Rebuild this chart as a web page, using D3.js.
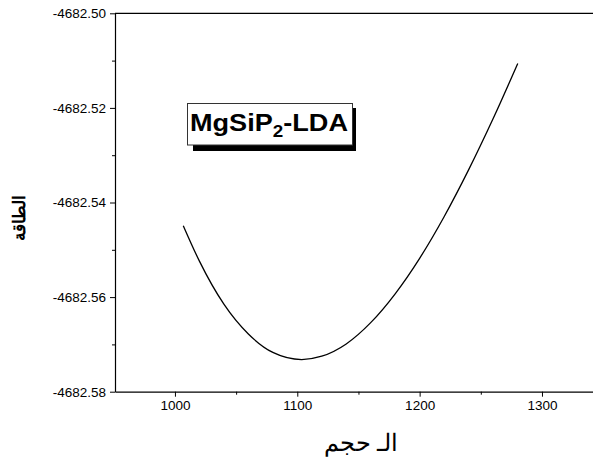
<!DOCTYPE html>
<html>
<head>
<meta charset="utf-8">
<script src="https://cdn.jsdelivr.net/npm/d3@7"></script>
<style>
  body { margin: 0; background: #fff; }
  text { font-family: "Liberation Sans", Arial, sans-serif; }
</style>
</head>
<body>
<div id="chart"></div>
<script>
// volume (x) and total energy (y)
var volume = [1006.8, 1020, 1040, 1060, 1080, 1103.6, 1120, 1140, 1160, 1180, 1200, 1220, 1240, 1260, 1280.2]
var energy = [-4682.5449, -4682.5524, -4682.5615, -4682.5678, -4682.5717, -4682.5732, -4682.5725, -4682.5699,
              -4682.5654, -4682.5593, -4682.5518, -4682.5430, -4682.5331, -4682.5223, -4682.5106]

var xTicks = [1000, 1100, 1200, 1300]
var xMinor = [1050, 1150, 1250]
var yTicks = [-4682.58, -4682.56, -4682.54, -4682.52, -4682.50]
var yMinor = [-4682.57, -4682.55, -4682.53, -4682.51]

var xLabel = "الـ حجم"
var yLabel = "الطاقة"

var W = 593, H = 462
var margin = {top: 13.3, right: 0, bottom: 70.3, left: 115}
var width = W - margin.left - margin.right,
    height = H - margin.top - margin.bottom

var svg = d3.select("#chart")
  .append("svg")
    .attr("width", W)
    .attr("height", H)

var g = svg.append("g")
    .attr("transform", "translate(" + margin.left + "," + margin.top + ")")

var x = d3.scaleLinear()
  .domain([951, 1341.7])
  .range([0, width])

var y = d3.scaleLinear()
  .domain([-4682.58, -4682.50])
  .range([height, 0])

// top frame line
g.append("line")
  .attr("x1", 0).attr("x2", width)
  .attr("y1", 0).attr("y2", 0)
  .attr("stroke", "#000").attr("stroke-width", 1.2)

// x axis
var xAxis = g.append("g")
  .attr("transform", "translate(0," + height + ")")
  .call(d3.axisBottom(x).tickValues(xTicks).tickSize(5).tickPadding(4).tickSizeOuter(0)
    .tickFormat(function(d) { return d.toString() }))
g.append("g")
  .attr("transform", "translate(0," + height + ")")
  .call(d3.axisBottom(x).tickValues(xMinor).tickSize(3).tickSizeOuter(0).tickFormat(""))
  .select(".domain").remove()

// y axis
var yAxis = g.append("g")
  .call(d3.axisLeft(y).tickValues(yTicks).tickSize(5).tickPadding(4).tickSizeOuter(0)
    .tickFormat(function(d) { return d.toFixed(2) }))
g.append("g")
  .call(d3.axisLeft(y).tickValues(yMinor).tickSize(3).tickSizeOuter(0).tickFormat(""))
  .select(".domain").remove()

g.selectAll(".domain").attr("stroke-width", 1.2)
g.selectAll(".tick line").attr("stroke-width", 1)
g.selectAll(".tick text")
  .attr("font-size", "13.5px")
  .attr("fill", "#000")
  .attr("font-family", "'Liberation Sans', Arial, sans-serif")

// curve
var pts = volume.map(function(v, i) { return [v, energy[i]] })
var line = d3.line()
  .x(function(d) { return x(d[0]) })
  .y(function(d) { return y(d[1]) })
  .curve(d3.curveMonotoneX)

g.append("path")
  .datum(pts)
  .attr("fill", "none")
  .attr("stroke", "#000")
  .attr("stroke-width", 1.3)
  .attr("d", line)

// label box with shadow
svg.append("rect")
  .attr("x", 193).attr("y", 108)
  .attr("width", 163).attr("height", 43)
  .attr("fill", "#000")
svg.append("rect")
  .attr("x", 187.5).attr("y", 103.5)
  .attr("width", 165).attr("height", 41.5)
  .attr("fill", "#fff")
  .attr("stroke", "#333").attr("stroke-width", 1)

var tb = svg.append("text")
  .attr("x", 0).attr("y", 0)
  .attr("font-size", "23px")
  .attr("font-weight", "bold")
  .attr("fill", "#000")
tb.append("tspan").text("MgSiP")
tb.append("tspan").attr("font-size", "16px").attr("dy", 6).text("2")
tb.append("tspan").attr("dy", -6).text("-LDA")
var bb = tb.node().getBBox()
var sx = 158 / bb.width
tb.attr("transform", "translate(" + (190 - bb.x * sx) + ",130.5) scale(" + sx + ",1)")

// axis titles
var xt = svg.append("text")
  .attr("x", 0).attr("y", 451)
  .attr("font-size", "24px")
  .attr("fill", "#000")
  .text(xLabel)
var xb = xt.node().getBBox()
xt.attr("x", 361 - xb.width / 2 - xb.x)

var yt = svg.append("text")
  .attr("font-size", "17px")
  .attr("font-weight", "bold")
  .attr("fill", "#000")
  .text(yLabel)
var yb = yt.node().getBBox()
yt.attr("transform", "translate(25," + (218 + yb.x + yb.width / 2) + ") rotate(-90)")
</script>
</body>
</html>
